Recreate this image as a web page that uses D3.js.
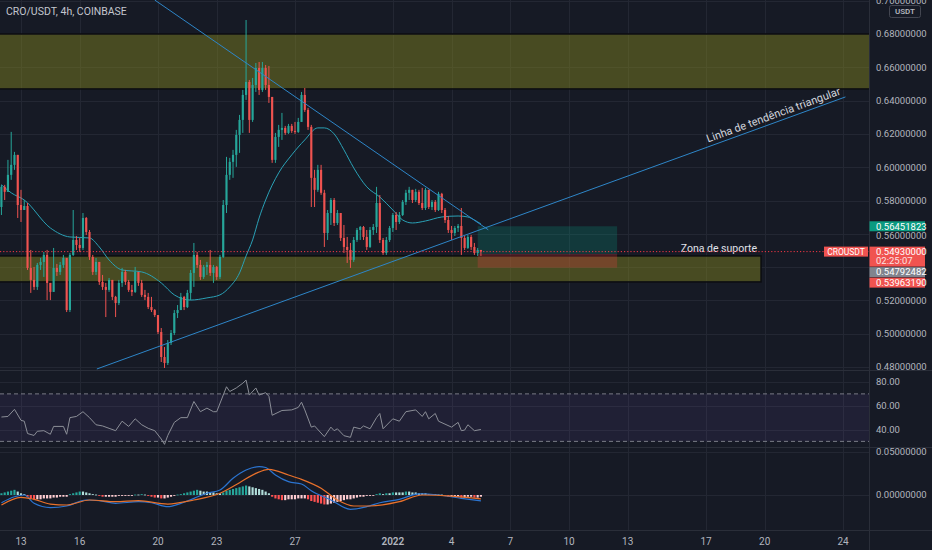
<!DOCTYPE html>
<html>
<head>
<meta charset="utf-8">
<script src="https://cdnjs.cloudflare.com/ajax/libs/d3/7.8.5/d3.min.js"></script>
<style>
html, body { margin: 0; padding: 0; background: #161a25; }
svg { display: block; font-family: Roboto, "Noto Sans", sans-serif; }
</style>
</head>
<body>
<div id="chart"></div>
<script>
// CRO/USDT 4h candles, first one opens 2021-12-12 00:00 UTC
const firstCandle = Date.UTC(2021, 11, 12, 0);
const firstOpen = 0.5761;
const closes = [
  0.5882,0.5852,0.5954,0.6014,0.6074,0.5773,0.5743,0.5767,0.5395,0.5323,
  0.5281,0.5413,0.5431,0.5473,0.5305,0.5251,0.5395,0.5371,0.5413,0.5455,
  0.5142,0.5473,0.5563,0.5533,0.5515,0.5695,0.5611,0.5461,0.5371,0.5431,
  0.5311,0.5281,0.5263,0.5323,0.5221,0.5184,0.5305,0.5371,0.5311,0.5263,
  0.5251,0.5371,0.5305,0.5233,0.5221,0.5160,0.5142,0.5112,0.5010,0.4860,
  0.4824,0.4944,0.5004,0.5124,0.5142,0.5221,0.5160,0.5245,0.5365,0.5473,
  0.5413,0.5341,0.5401,0.5413,0.5365,0.5401,0.5341,0.5461,0.5773,0.5954,
  0.6032,0.6074,0.6194,0.6284,0.6434,0.6512,0.6284,0.6494,0.6596,0.6464,
  0.6596,0.6494,0.6422,0.6044,0.6182,0.6224,0.6236,0.6206,0.6248,0.6218,
  0.6212,0.6272,0.6434,0.6344,0.6242,0.5936,0.5864,0.5984,0.5846,0.5605,
  0.5725,0.5803,0.5665,0.5725,0.5575,0.5521,0.5503,0.5443,0.5563,0.5623,
  0.5641,0.5581,0.5521,0.5623,0.5641,0.5785,0.5563,0.5485,0.5563,0.5635,
  0.5713,0.5671,0.5713,0.5791,0.5846,0.5864,0.5803,0.5852,0.5785,0.5755,
  0.5864,0.5761,0.5791,0.5743,0.5840,0.5743,0.5683,0.5623,0.5605,0.5635,
  0.5647,0.5575,0.5515,0.5581,0.5521,0.5485,0.5503,0.5493
];
const highs = [
  0.5894,0.5894,0.6044,0.6212,0.6092,0.6074,0.5864,0.5803,0.5785,0.5503,
  0.5401,0.5425,0.5455,0.5491,0.5503,0.5305,0.5515,0.5419,0.5431,0.5473,
  0.5455,0.5485,0.5743,0.5587,0.5575,0.5725,0.5701,0.5623,0.5473,0.5455,
  0.5431,0.5353,0.5305,0.5335,0.5323,0.5227,0.5323,0.5395,0.5383,0.5323,
  0.5293,0.5401,0.5371,0.5323,0.5263,0.5245,0.5221,0.5148,0.5112,0.5034,
  0.4920,0.4962,0.5022,0.5142,0.5172,0.5245,0.5227,0.5263,0.5383,0.5545,
  0.5491,0.5443,0.5413,0.5431,0.5503,0.5413,0.5407,0.5473,0.5803,0.6062,
  0.6056,0.6104,0.6224,0.6314,0.6464,0.6884,0.6524,0.6536,0.6626,0.6632,
  0.6632,0.6614,0.6608,0.6422,0.6206,0.6254,0.6326,0.6248,0.6260,0.6260,
  0.6272,0.6296,0.6452,0.6476,0.6356,0.6254,0.5984,0.6014,0.6014,0.5864,
  0.5743,0.5815,0.5815,0.5743,0.5725,0.5653,0.5581,0.5545,0.5581,0.5635,
  0.5647,0.5647,0.5623,0.5641,0.5659,0.5882,0.5833,0.5575,0.5581,0.5647,
  0.5725,0.5731,0.5731,0.5803,0.5864,0.5882,0.5864,0.5870,0.5864,0.5876,
  0.5876,0.5864,0.5803,0.5803,0.5852,0.5846,0.5755,0.5707,0.5647,0.5647,
  0.5659,0.5755,0.5587,0.5593,0.5593,0.5545,0.5515,0.5503
];
const lows = [
  0.5713,0.5803,0.5852,0.5924,0.5984,0.5695,0.5671,0.5743,0.5383,0.5245,
  0.5263,0.5263,0.5383,0.5341,0.5202,0.5202,0.5251,0.5347,0.5353,0.5395,
  0.5130,0.5130,0.5467,0.5503,0.5491,0.5503,0.5593,0.5443,0.5353,0.5353,
  0.5293,0.5263,0.5100,0.5251,0.5202,0.5100,0.5172,0.5281,0.5293,0.5251,
  0.5227,0.5245,0.5287,0.5221,0.5202,0.5148,0.5130,0.5100,0.4998,0.4830,
  0.4794,0.4812,0.4932,0.4992,0.5094,0.5142,0.5142,0.5154,0.5202,0.5281,
  0.5395,0.5323,0.5329,0.5353,0.5347,0.5305,0.5323,0.5329,0.5455,0.5725,
  0.5924,0.5936,0.6002,0.6086,0.6206,0.6404,0.6206,0.6272,0.6452,0.6434,
  0.6452,0.6464,0.6386,0.6026,0.6026,0.6122,0.6164,0.6194,0.6200,0.6206,
  0.6200,0.6206,0.6272,0.6332,0.6224,0.5761,0.5761,0.5852,0.5834,0.5521,
  0.5563,0.5653,0.5647,0.5653,0.5557,0.5485,0.5425,0.5395,0.5431,0.5551,
  0.5563,0.5563,0.5503,0.5515,0.5593,0.5605,0.5545,0.5473,0.5473,0.5551,
  0.5611,0.5623,0.5659,0.5707,0.5773,0.5803,0.5785,0.5791,0.5773,0.5743,
  0.5743,0.5749,0.5743,0.5731,0.5737,0.5725,0.5665,0.5605,0.5563,0.5587,
  0.5611,0.5473,0.5503,0.5509,0.5503,0.5473,0.5467,0.5467
];

// moving average (candle index -> price)
const maIdx = [0,3,7,15,21,27,30,33,37,43,49,53,58,63,67,70,73,75,77,79,
  81,85,89,93,97,99,102,105,108,112,116,120,123,126,130,135,140,143,145,147];
const maVal = [0.5894,0.5846,0.5803,0.5635,0.5581,0.5575,0.5521,0.5443,0.5383,0.5371,
  0.5305,0.5233,0.5202,0.5215,0.5233,0.5281,0.5365,0.5467,0.5563,0.5695,
  0.5803,0.5966,0.6074,0.6164,0.6236,0.6236,0.6200,0.6104,0.5996,0.5882,
  0.5821,0.5743,0.5683,0.5665,0.5677,0.5701,0.5707,0.5701,0.5683,0.5659];

// RSI (candle index -> value)
const rsiIdx = [0,2,4,6,7,8,10,11,13,15,16,19,20,21,23,25,27,29,31,33,
  35,37,39,41,43,45,47,49,50,51,53,55,57,59,61,63,65,66,68,69,
  70,72,74,75,76,78,79,81,82,83,86,89,91,92,93,95,96,99,101,102,
  103,105,107,108,110,111,113,115,116,117,120,122,124,127,129,130,131,133,134,138,
  140,141,142,143,145,147];
const rsiVal = [50.5,51,57,47.7,47,36.6,35,38.5,39,36,42.6,42.6,36,50,51,55,50,44,43,41,
  39,47,42.6,49,44,41,39,32,27.5,35,46,50,50,63.6,55,58,55,55,69,76,
  72,75,79,81.6,69,75,69,71,68,52,56,56.5,58.6,63,56.5,42,43,34,42,39,
  40.6,34.8,33.4,42,40.6,43,40.6,50,53.5,40.6,49,47,55,56.5,51,55,49,53.5,47,42,
  46,39,39.5,44,39,40];

// MACD line and signal (candle index -> value), histogram per candle
const macdIdx = [0,4,7,10,15,20,26,30,35,42,46,51,55,59,63,67,71,75,79,81,
  84,88,92,95,101,107,112,116,122,128,134,141,147];
const macdVal = [-0.009,-0.002,0,-0.0097,-0.0147,-0.0128,-0.0058,-0.0066,-0.0097,-0.0078,
  -0.009,-0.0136,-0.0097,-0.0039,0.002,0.0058,0.0194,0.029,0.033,0.032,
  0.0233,0.0155,0.0128,0.005,-0.0058,-0.0167,-0.0136,-0.009,-0.005,0.0012,
  0,-0.0039,-0.0068];
const signalIdx = [0,6,10,15,20,27,35,42,51,59,67,73,78,82,88,92,98,103,108,113,
  122,129,138,147];
const signalVal = [-0.0116,-0.0027,-0.005,-0.0105,-0.0116,-0.0058,-0.0078,-0.0066,-0.0105,-0.0058,
  0.002,0.0143,0.0252,0.0299,0.0233,0.0182,0.0078,-0.0058,-0.0128,-0.0128,
  -0.0078,0,-0.0012,-0.0045];
const hist = [
  0.002,0.003,0.004,0.005,0.006,0.004,0.002,0.001,-0.002,-0.004,
  -0.005,-0.005,-0.005,-0.004,-0.004,-0.004,-0.003,-0.003,-0.002,-0.002,
  -0.002,0.001,0.002,0.003,0.004,0.004,0.003,0.002,0.001,0.0005,
  -0.001,-0.002,-0.002,-0.002,-0.002,-0.002,-0.001,-0.001,-0.001,-0.001,
  -0.001,0.0005,0.0005,0.001,0.0005,-0.001,-0.002,-0.003,-0.003,-0.004,
  -0.004,-0.003,-0.002,-0.001,0.0005,0.001,0.002,0.003,0.004,0.005,
  0.006,0.005,0.004,0.004,0.003,0.003,0.002,0.002,0.003,0.005,
  0.006,0.007,0.008,0.009,0.010,0.011,0.010,0.009,0.008,0.007,
  0.006,0.004,0.002,-0.002,-0.004,-0.005,-0.006,-0.006,-0.005,-0.005,
  -0.005,-0.004,-0.004,-0.004,-0.005,-0.007,-0.008,-0.009,-0.010,-0.011,
  -0.011,-0.010,-0.009,-0.008,-0.007,-0.006,-0.005,-0.005,-0.004,-0.003,
  -0.002,-0.002,-0.001,-0.001,-0.0005,0.001,0.002,0.001,0.002,0.002,
  0.003,0.003,0.003,0.003,0.004,0.004,0.003,0.003,0.002,0.002,
  0.002,0.001,0.001,0.001,0.0005,0.0005,-0.001,-0.002,-0.002,-0.002,
  -0.002,-0.003,-0.003,-0.002,-0.002,-0.003,-0.003,-0.002
];

// drawings
const resistZone = [0.647, 0.680];
const supportZone = [0.5311, 0.5467];
const supportEnd = Date.UTC(2022, 0, 19, 19, 30);
const descLine = [[Date.UTC(2021, 11, 19, 20), 0.7004], [Date.UTC(2022, 0, 5, 21), 0.5624]];
const ascLine = [[Date.UTC(2021, 11, 16, 21), 0.4788], [Date.UTC(2022, 0, 24, 3), 0.6422]];
const position = { start: Date.UTC(2022, 0, 5, 8), end: Date.UTC(2022, 0, 12, 11),
  entry: 0.54792482, target: 0.56451823, stop: 0.53963190 };
const countdown = "02:25:07";

// axes
const tickDates = [
  Date.UTC(2021, 11, 13), Date.UTC(2021, 11, 16), Date.UTC(2021, 11, 20), Date.UTC(2021, 11, 23),
  Date.UTC(2021, 11, 27), Date.UTC(2022, 0, 1), Date.UTC(2022, 0, 4), Date.UTC(2022, 0, 7),
  Date.UTC(2022, 0, 10), Date.UTC(2022, 0, 13), Date.UTC(2022, 0, 17), Date.UTC(2022, 0, 20),
  Date.UTC(2022, 0, 24)
];
const priceTicks = [0.48, 0.50, 0.52, 0.54, 0.56, 0.58, 0.60, 0.62, 0.64, 0.66, 0.68, 0.70];
const rsiTicks = [80, 60, 40];
const macdTicks = [0.05, 0];

const width = 932, height = 550;
const axisX = 869;
const hour = 3600 * 1000;
const fmt8 = d3.format(".8f");
const fmt2 = d3.format(".2f");

const svg = d3.select("#chart").append("svg")
  .attr("width", width)
  .attr("height", height);

svg.append("rect").attr("width", width).attr("height", height).attr("fill", "#161a25");

const x = d3.scaleUtc()
  .domain([Date.UTC(2021, 11, 13), Date.UTC(2022, 0, 24)])
  .range([21, 843]);
const y = d3.scaleLinear().domain([0.48, 0.68]).range([367, 34]);
const yRsi = d3.scaleLinear().domain([40, 80]).range([429.5, 382]);
const yMacd = d3.scaleLinear().domain([0, 0.05]).range([495, 452]);

const tAt = i => new Date(firstCandle + i * 4 * hour);
const step = x(tAt(1)) - x(tAt(0));
const bodyW = step * 0.66;

const defs = svg.append("defs");
[["clipPrice", 0, 370], ["clipRsi", 370, 77], ["clipMacd", 447, 83]].forEach(([id, top, h]) => {
  defs.append("clipPath").attr("id", id)
    .append("rect").attr("x", 0).attr("y", top).attr("width", axisX).attr("height", h);
});

// grid
const grid = svg.append("g").attr("stroke", "#232733").attr("stroke-width", 1);
grid.selectAll("line.v").data(tickDates).join("line")
  .attr("x1", d => Math.round(x(d)) + 0.5).attr("x2", d => Math.round(x(d)) + 0.5)
  .attr("y1", 0).attr("y2", 530);
grid.selectAll("line.p").data(priceTicks).join("line")
  .attr("x1", 0).attr("x2", axisX)
  .attr("y1", d => Math.round(y(d)) + 0.5).attr("y2", d => Math.round(y(d)) + 0.5);
grid.selectAll("line.r").data(rsiTicks).join("line")
  .attr("x1", 0).attr("x2", axisX)
  .attr("y1", d => Math.round(yRsi(d)) + 0.5).attr("y2", d => Math.round(yRsi(d)) + 0.5);
grid.selectAll("line.m").data(macdTicks).join("line")
  .attr("x1", 0).attr("x2", axisX)
  .attr("y1", d => Math.round(yMacd(d)) + 0.5).attr("y2", d => Math.round(yMacd(d)) + 0.5);

// price pane
const price = svg.append("g").attr("clip-path", "url(#clipPrice)");

price.append("rect")
  .attr("x", -5).attr("width", axisX + 10)
  .attr("y", y(resistZone[1])).attr("height", y(resistZone[0]) - y(resistZone[1]))
  .attr("fill", "rgba(133,135,31,0.45)")
  .attr("stroke", "#0c0d11").attr("stroke-width", 1.5);

price.append("rect")
  .attr("x", -5).attr("width", x(supportEnd) + 5)
  .attr("y", y(supportZone[1])).attr("height", y(supportZone[0]) - y(supportZone[1]))
  .attr("fill", "rgba(133,135,31,0.45)")
  .attr("stroke", "#0c0d11").attr("stroke-width", 1.5);

price.append("text")
  .attr("x", x(supportEnd) - 4).attr("y", y(supportZone[1]) - 4)
  .attr("text-anchor", "end")
  .attr("fill", "#e0e3eb").attr("font-size", 10.5)
  .text("Zona de suporte");

// long position tool
const px0 = x(position.start), px1 = x(position.end);
price.append("rect")
  .attr("x", px0).attr("width", px1 - px0)
  .attr("y", y(position.target)).attr("height", y(position.entry) - y(position.target))
  .attr("fill", "rgba(8,153,129,0.25)");
price.append("rect")
  .attr("x", px0).attr("width", px1 - px0)
  .attr("y", y(position.entry)).attr("height", y(position.stop) - y(position.entry))
  .attr("fill", "rgba(242,54,69,0.25)");

// moving average
price.append("path")
  .datum(maIdx.map((d, k) => [d, maVal[k]]))
  .attr("fill", "none")
  .attr("stroke", "#2aa1b6").attr("stroke-width", 1)
  .attr("d", d3.line().curve(d3.curveMonotoneX)
    .x(d => x(tAt(d[0]))).y(d => y(d[1])));

// candles
const candles = closes.map((c, i) => {
  const o = i === 0 ? firstOpen : closes[i - 1];
  return { t: tAt(i), o, c, h: Math.max(highs[i], o, c), l: Math.min(lows[i], o, c) };
});
const candle = price.append("g").selectAll("g").data(candles).join("g")
  .attr("fill", d => d.c >= d.o ? "#26a69a" : "#ef5350")
  .attr("stroke", d => d.c >= d.o ? "#26a69a" : "#ef5350");
candle.append("line")
  .attr("x1", d => x(d.t)).attr("x2", d => x(d.t))
  .attr("y1", d => y(d.h)).attr("y2", d => y(d.l))
  .attr("stroke-width", 1);
candle.append("rect")
  .attr("stroke", "none")
  .attr("x", d => x(d.t) - bodyW / 2).attr("width", bodyW)
  .attr("y", d => y(Math.max(d.o, d.c)))
  .attr("height", d => Math.max(1, Math.abs(y(d.o) - y(d.c))));

// trend lines
[descLine, ascLine].forEach(ln => {
  price.append("line")
    .attr("x1", x(ln[0][0])).attr("y1", y(ln[0][1]))
    .attr("x2", x(ln[1][0])).attr("y2", y(ln[1][1]))
    .attr("stroke", "#2e86c8").attr("stroke-width", 1);
});
const a0 = [x(ascLine[0][0]), y(ascLine[0][1])], a1 = [x(ascLine[1][0]), y(ascLine[1][1])];
const ang = Math.atan2(a1[1] - a0[1], a1[0] - a0[0]) * 180 / Math.PI;
price.append("text")
  .attr("transform", `translate(${a1[0]},${a1[1]}) rotate(${ang})`)
  .attr("x", -3).attr("y", -4)
  .attr("text-anchor", "end")
  .attr("fill", "#d1d4dc").attr("font-size", 11)
  .text("Linha de tendência triangular");

// last price line
const last = closes[closes.length - 1];
svg.append("line")
  .attr("x1", 0).attr("x2", axisX)
  .attr("y1", y(last)).attr("y2", y(last))
  .attr("stroke", "#f23645").attr("stroke-width", 1)
  .attr("stroke-dasharray", "1.2,2");

// RSI pane
const rsi = svg.append("g").attr("clip-path", "url(#clipRsi)");
rsi.append("rect")
  .attr("x", 0).attr("width", axisX)
  .attr("y", yRsi(70)).attr("height", yRsi(30) - yRsi(70))
  .attr("fill", "rgba(126,87,194,0.1)");
rsi.selectAll("line.band").data([70, 30]).join("line")
  .attr("x1", 0).attr("x2", axisX)
  .attr("y1", d => yRsi(d)).attr("y2", d => yRsi(d))
  .attr("stroke", "#787b86").attr("stroke-dasharray", "4,3");
rsi.append("path")
  .datum(rsiIdx.map((d, k) => [d, rsiVal[k]]))
  .attr("fill", "none")
  .attr("stroke", "#8b8e97").attr("stroke-width", 1)
  .attr("d", d3.line().x(d => x(tAt(d[0]))).y(d => yRsi(d[1])));

// MACD pane
const macd = svg.append("g").attr("clip-path", "url(#clipMacd)");
macd.selectAll("rect").data(hist).join("rect")
  .attr("x", (d, i) => x(tAt(i)) - bodyW / 2).attr("width", bodyW)
  .attr("y", d => yMacd(Math.max(d, 0)))
  .attr("height", d => Math.max(0.8, Math.abs(yMacd(d) - yMacd(0))))
  .attr("fill", (d, i) => {
    const prev = i === 0 ? 0 : hist[i - 1];
    if (d >= 0) return d > prev ? "#26a69a" : "#b2dfdb";
    return d < prev ? "#ff5252" : "#ffcdd2";
  });
macd.append("path")
  .datum(macdIdx.map((d, k) => [d, macdVal[k]]))
  .attr("fill", "none").attr("stroke", "#2b74d0").attr("stroke-width", 1.2)
  .attr("d", d3.line().curve(d3.curveMonotoneX).x(d => x(tAt(d[0]))).y(d => yMacd(d[1])));
macd.append("path")
  .datum(signalIdx.map((d, k) => [d, signalVal[k]]))
  .attr("fill", "none").attr("stroke", "#e8712b").attr("stroke-width", 1.2)
  .attr("d", d3.line().curve(d3.curveMonotoneX).x(d => x(tAt(d[0]))).y(d => yMacd(d[1])));

// separators
const sep = svg.append("g").attr("stroke", "#2a2e39").attr("stroke-width", 1);
[370.5, 447.5, 530.5].forEach(v => sep.append("line").attr("x1", 0).attr("x2", width).attr("y1", v).attr("y2", v));
sep.append("line").attr("x1", axisX + 0.5).attr("x2", axisX + 0.5).attr("y1", 0).attr("y2", height);

// header
svg.append("text")
  .attr("x", 6).attr("y", 14.5)
  .attr("fill", "#c3c6ce").attr("font-size", 10.5)
  .text("CRO/USDT, 4h, COINBASE");

// price labels, stacked so they do not overlap
const labels = [
  { p: position.target, fill: "#0b9a80", h: 10 },
  { p: last, fill: "#f05350", h: 20, sub: countdown },
  { p: position.entry, fill: "#81848e", h: 10 },
  { p: position.stop, fill: "#f05350", h: 10 }
].sort((a, b) => y(b.p) < y(a.p) ? 1 : -1);
let bottom = -Infinity;
labels.forEach(l => {
  l.top = Math.max(y(l.p) - 5, bottom + 0.5);
  bottom = l.top + l.h;
});

// right axis tick labels: fully covered ones are skipped, half covered ones sit just under the label
const tickPos = p => {
  let pos = y(p);
  for (const l of labels) {
    const lb = l.top + l.h;
    if (pos > l.top + 2 && pos < lb - 2) return null;
    if (pos >= lb - 2 && pos < lb + 4.5) pos = lb + 4.5;
  }
  return pos;
};
const visibleTicks = priceTicks.map(p => ({ p, pos: tickPos(p) })).filter(d => d.pos !== null);
const axisText = svg.append("g").attr("fill", "#b2b5be").attr("font-size", 9.5);
axisText.selectAll("text.p").data(visibleTicks).join("text")
  .attr("x", 876).attr("y", d => d.pos).attr("dy", "0.35em")
  .text(d => fmt8(d.p));
axisText.selectAll("text.r").data(rsiTicks).join("text")
  .attr("x", 876).attr("y", d => yRsi(d)).attr("dy", "0.35em")
  .text(d => fmt2(d));
axisText.selectAll("text.m").data(macdTicks).join("text")
  .attr("x", 876).attr("y", d => yMacd(d)).attr("dy", "0.35em")
  .text(d => fmt8(d));

// currency badge
svg.append("rect").attr("x", 889.5).attr("y", 5.5).attr("width", 31).attr("height", 12).attr("rx", 2)
  .attr("fill", "#161a25").attr("stroke", "#434651");
svg.append("text").attr("x", 905).attr("y", 11.5).attr("dy", "0.35em")
  .attr("text-anchor", "middle").attr("fill", "#b2b5be").attr("font-size", 8).attr("font-weight", 600)
  .text("USDT");

const lab = svg.append("g").selectAll("g").data(labels).join("g");
lab.append("rect")
  .attr("x", axisX + 0.5).attr("width", 55.5)
  .attr("y", d => d.top).attr("height", d => d.h)
  .attr("fill", d => d.fill);
lab.append("text")
  .attr("x", 876).attr("y", d => d.top + 5).attr("dy", "0.35em")
  .attr("fill", "#ffffff").attr("font-size", 9.5)
  .text(d => fmt8(d.p));
lab.filter(d => d.sub).append("text")
  .attr("x", 876).attr("y", d => d.top + 14.5).attr("dy", "0.35em")
  .attr("fill", "#fde2e2").attr("font-size", 9.5)
  .text(d => d.sub);

// symbol label on the last price line
svg.append("rect")
  .attr("x", 824).attr("width", 44).attr("y", y(last) - 5).attr("height", 10)
  .attr("fill", "#f05350");
svg.append("text")
  .attr("x", 846).attr("y", y(last)).attr("dy", "0.35em")
  .attr("text-anchor", "middle").attr("fill", "#ffffff").attr("font-size", 8.5)
  .text("CROUSDT");

// time axis
svg.append("g").selectAll("text").data(tickDates).join("text")
  .attr("x", d => x(d)).attr("y", 541).attr("dy", "0.35em")
  .attr("text-anchor", "middle")
  .attr("fill", "#b2b5be").attr("font-size", 10)
  .attr("font-weight", d => new Date(d).getUTCDate() === 1 ? 600 : 400)
  .text(d => {
    const dt = new Date(d);
    return dt.getUTCDate() === 1 && dt.getUTCMonth() === 0 ? String(dt.getUTCFullYear()) : String(dt.getUTCDate());
  });
</script>
</body>
</html>
